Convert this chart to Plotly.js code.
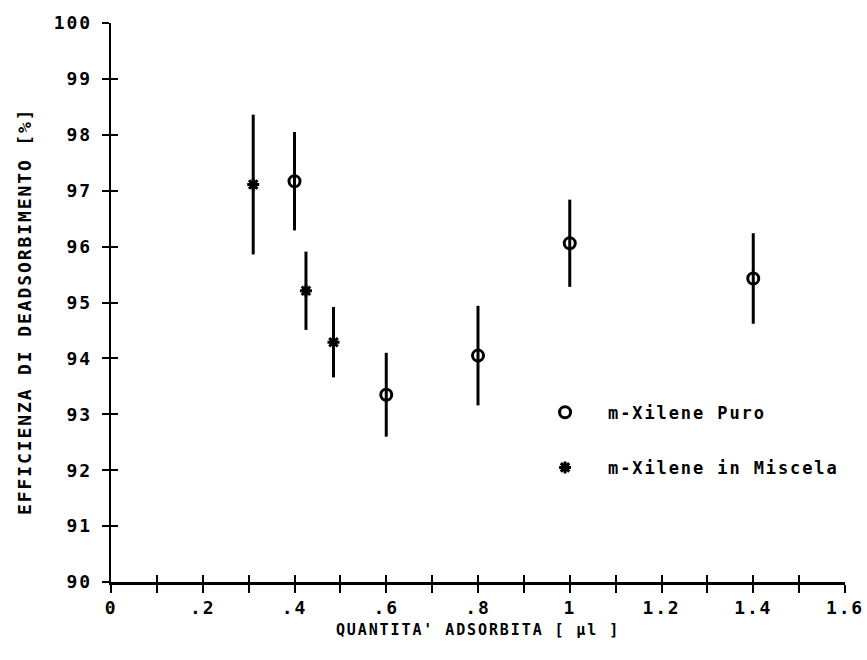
<!DOCTYPE html>
<html>
<head>
<meta charset="utf-8">
<script src="https://cdn.plot.ly/plotly-3.0.1.min.js"></script>
<style>
  html, body { margin: 0; padding: 0; background: #fff; }
  #chart { width: 867px; height: 660px; }
  text { letter-spacing: 1.9px; }
</style>
</head>
<body>
<div id="chart"></div>
<script>
// m-Xilene Puro (open circles)
const puroX = [0.40, 0.60, 0.80, 1.00, 1.40];
const puroY = [97.17, 93.35, 94.05, 96.06, 95.43];
const puroErr = [0.88, 0.75, 0.89, 0.78, 0.81];

// m-Xilene in Miscela (asterisks)
const miscX = [0.31, 0.425, 0.485];
const miscY = [97.11, 95.21, 94.29];
const miscErr = [1.25, 0.70, 0.63];

// axis ticks
const xTickVals = [0, 0.1, 0.2, 0.3, 0.4, 0.5, 0.6, 0.7, 0.8, 0.9, 1.0, 1.1, 1.2, 1.3, 1.4, 1.5, 1.6];
const xTickText = ["0", "", ".2", "", ".4", "", ".6", "", ".8", "", "1", "", "1.2", "", "1.4", "", "1.6"];
const yTickVals = [90, 91, 92, 93, 94, 95, 96, 97, 98, 99, 100];

const FONT = "DejaVu Sans Mono, monospace";

const traces = [
  {
    type: "scatter", mode: "markers", name: "m-Xilene Puro",
    x: puroX, y: puroY, legendgroup: "a",
    error_y: { type: "data", array: puroErr, visible: true, color: "#000", thickness: 3, width: 0 },
    marker: { symbol: "circle-open", size: 11, color: "#000", line: { width: 3, color: "#000" } }
  },
  {
    type: "scatter", mode: "markers", name: "m-Xilene in Miscela",
    x: miscX, y: miscY, legendgroup: "b", xaxis: "x2", yaxis: "y2",
    error_y: { type: "data", array: miscErr, visible: true, color: "#000", thickness: 3, width: 0 },
    marker: { symbol: "asterisk-open", size: 10, color: "#000", line: { width: 3, color: "#000" } }
  }
];

const axisFont = { family: FONT, size: 18, color: "#000", weight: "bold" };

const layout = {
  width: 867, height: 660,
  paper_bgcolor: "#fff", plot_bgcolor: "#fff",
  margin: { l: 111, r: 22, t: 23, b: 78 },
  showlegend: true,
  legend: {
    x: 0.56, y: 0.335, xanchor: "left", yanchor: "top",
    font: { family: FONT, size: 17, color: "#000", weight: "bold" },
    tracegroupgap: 30, itemwidth: 76, bgcolor: "rgba(0,0,0,0)", borderwidth: 0
  },
  xaxis: {
    range: [0, 1.6], tickmode: "array", tickvals: xTickVals, ticktext: xTickText,
    ticks: "outside", ticklen: 8, tickwidth: 2, tickcolor: "#000",
    showline: true, linewidth: 2.5, linecolor: "#000",
    showgrid: false, zeroline: false,
    tickfont: axisFont, ticklabelstandoff: 0,
    title: { text: "QUANTITA' ADSORBITA [ \u00b5l ]", font: { family: FONT, size: 15, color: "#000", weight: "bold" }, standoff: 8 },
    automargin: false
  },
  xaxis2: {
    range: [0, 1.6], overlaying: "x", side: "bottom", anchor: "y2",
    tickmode: "array", tickvals: xTickVals, ticks: "inside", ticklen: 7, tickwidth: 2, tickcolor: "#000",
    showticklabels: false, showline: false, showgrid: false, zeroline: false
  },
  yaxis: {
    range: [90, 100], tickmode: "array", tickvals: yTickVals,
    ticks: "outside", ticklen: 7, tickwidth: 2, tickcolor: "#000",
    showline: true, linewidth: 2.5, linecolor: "#000",
    showgrid: false, zeroline: false,
    tickfont: axisFont, ticklabelstandoff: 6,
    automargin: false
  },
  yaxis2: {
    range: [90, 100], overlaying: "y", side: "left", anchor: "x2",
    tickmode: "array", tickvals: yTickVals, ticks: "inside", ticklen: 7, tickwidth: 2, tickcolor: "#000",
    showticklabels: false, showline: false, showgrid: false, zeroline: false
  },
  annotations: [
    {
      text: "EFFICIENZA DI DEADSORBIMENTO [%]", textangle: -90,
      xref: "paper", yref: "paper", x: -0.117, y: 0.485,
      xanchor: "center", yanchor: "middle", showarrow: false,
      font: { family: FONT, size: 18, color: "#000", weight: "bold" }
    }
  ]
};

Plotly.newPlot("chart", traces, layout, { staticPlot: true, displayModeBar: false });
</script>
</body>
</html>
